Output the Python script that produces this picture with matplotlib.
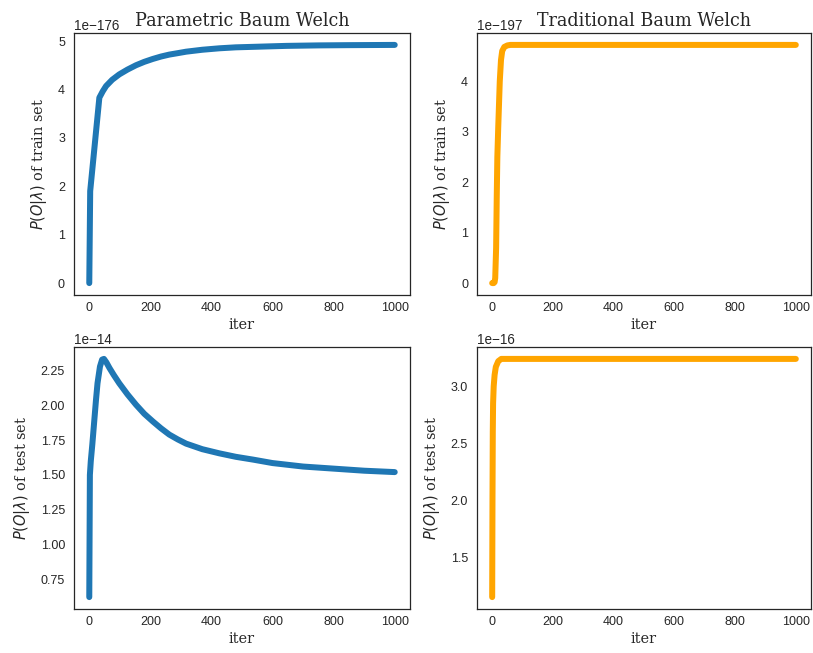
import matplotlib
matplotlib.use("Agg")
import matplotlib.pyplot as plt

# ---- data ----
train_param_iter = [0, 3, 33, 44, 55, 75, 98, 125, 153, 180, 208, 235, 262, 290, 317, 370, 426, 480, 536, 590, 645, 750, 850, 1000]
train_param_val = [0.0, 1.9, 3.83, 3.96, 4.07, 4.20, 4.31, 4.41, 4.50, 4.57, 4.63, 4.68, 4.72, 4.75, 4.78, 4.82, 4.85, 4.87, 4.88, 4.89, 4.90, 4.91, 4.915, 4.92]

train_trad_iter = [0, 5, 8, 10, 13, 15, 17, 20, 25, 29, 33, 40, 50, 60, 1000]
train_trad_val = [0.0, 0.0, 0.02, 0.1, 0.7, 1.7, 2.5, 3.1, 4.0, 4.42, 4.6, 4.68, 4.71, 4.72, 4.72]

test_param_iter = [0, 2, 5, 10, 16, 22, 27, 35, 42, 48, 56, 66, 80, 98, 125, 153, 180, 208, 235, 262, 290, 317, 370, 426, 480, 536, 600, 700, 800, 900, 1000]
test_param_val = [0.62, 1.50, 1.60, 1.72, 1.88, 2.04, 2.16, 2.28, 2.33, 2.335, 2.31, 2.27, 2.22, 2.16, 2.08, 2.005, 1.94, 1.885, 1.835, 1.79, 1.755, 1.725, 1.685, 1.655, 1.63, 1.61, 1.585, 1.56, 1.545, 1.53, 1.52]

test_trad_iter = [0, 1, 2, 3, 5, 8, 12, 20, 30, 1000]
test_trad_val = [1.15, 2.0, 2.6, 2.85, 3.0, 3.1, 3.17, 3.22, 3.24, 3.24]

train_param_exp = -176
train_trad_exp = -197
test_param_exp = -14
test_trad_exp = -16

titles = ["Parametric Baum Welch", "Traditional Baum Welch"]
xlabel = "iter"
ylabel_train = r"$P(O|\lambda)$ of train set"
ylabel_test = r"$P(O|\lambda)$ of test set"
xticks = [0, 200, 400, 600, 800, 1000]

# ---- style ----
plt.rcParams["font.family"] = ["Liberation Sans", "DejaVu Sans"]
plt.rcParams["axes.edgecolor"] = "0.15"
plt.rcParams["axes.linewidth"] = 1.25
plt.rcParams["text.color"] = "0.15"
plt.rcParams["axes.labelcolor"] = "0.15"
plt.rcParams["xtick.color"] = "0.15"
plt.rcParams["ytick.color"] = "0.15"

W, H = 813, 653
DPI = 72
fig = plt.figure(figsize=(W / DPI, H / DPI), dpi=DPI)
fig.patch.set_facecolor("white")

def rect(x0, y0, x1, y1):
    return [x0 / W, 1 - y1 / H, (x1 - x0) / W, (y1 - y0) / H]

boxes = [rect(74, 33, 410, 295), rect(477, 33, 811, 295),
         rect(74, 347, 410, 609), rect(477, 347, 811, 609)]

series = [
    (train_param_iter, train_param_val, train_param_exp, "#1f77b4", ylabel_train),
    (train_trad_iter, train_trad_val, train_trad_exp, "#FFA500", ylabel_train),
    (test_param_iter, test_param_val, test_param_exp, "#1f77b4", ylabel_test),
    (test_trad_iter, test_trad_val, test_trad_exp, "#FFA500", ylabel_test),
]

serif = ["DejaVu Serif"]

for i, (box, (xs, ys, ex, col, ylab)) in enumerate(zip(boxes, series)):
    ax = fig.add_axes(box)
    yv = [v * 10.0 ** ex for v in ys]
    ax.plot(xs, yv, color=col, linewidth=6, solid_capstyle="round", solid_joinstyle="round")
    ax.set_xticks(xticks)
    ax.tick_params(axis="both", length=0, labelsize=12.5)
    ax.tick_params(axis="x", pad=7)
    ax.tick_params(axis="y", pad=9)
    ax.yaxis.get_offset_text().set_fontsize(13.5)
    ax.set_xlabel(xlabel, fontsize=14.5, family=serif, labelpad=4)
    ax.set_ylabel(ylab, fontsize=14.5, family=serif, labelpad=9)
    if i < 2:
        ax.set_title(titles[i], fontsize=17.5, family=serif, pad=7)
    for s in ax.spines.values():
        s.set_edgecolor("0.15")

fig.savefig("out.png", dpi=DPI, facecolor="white")
